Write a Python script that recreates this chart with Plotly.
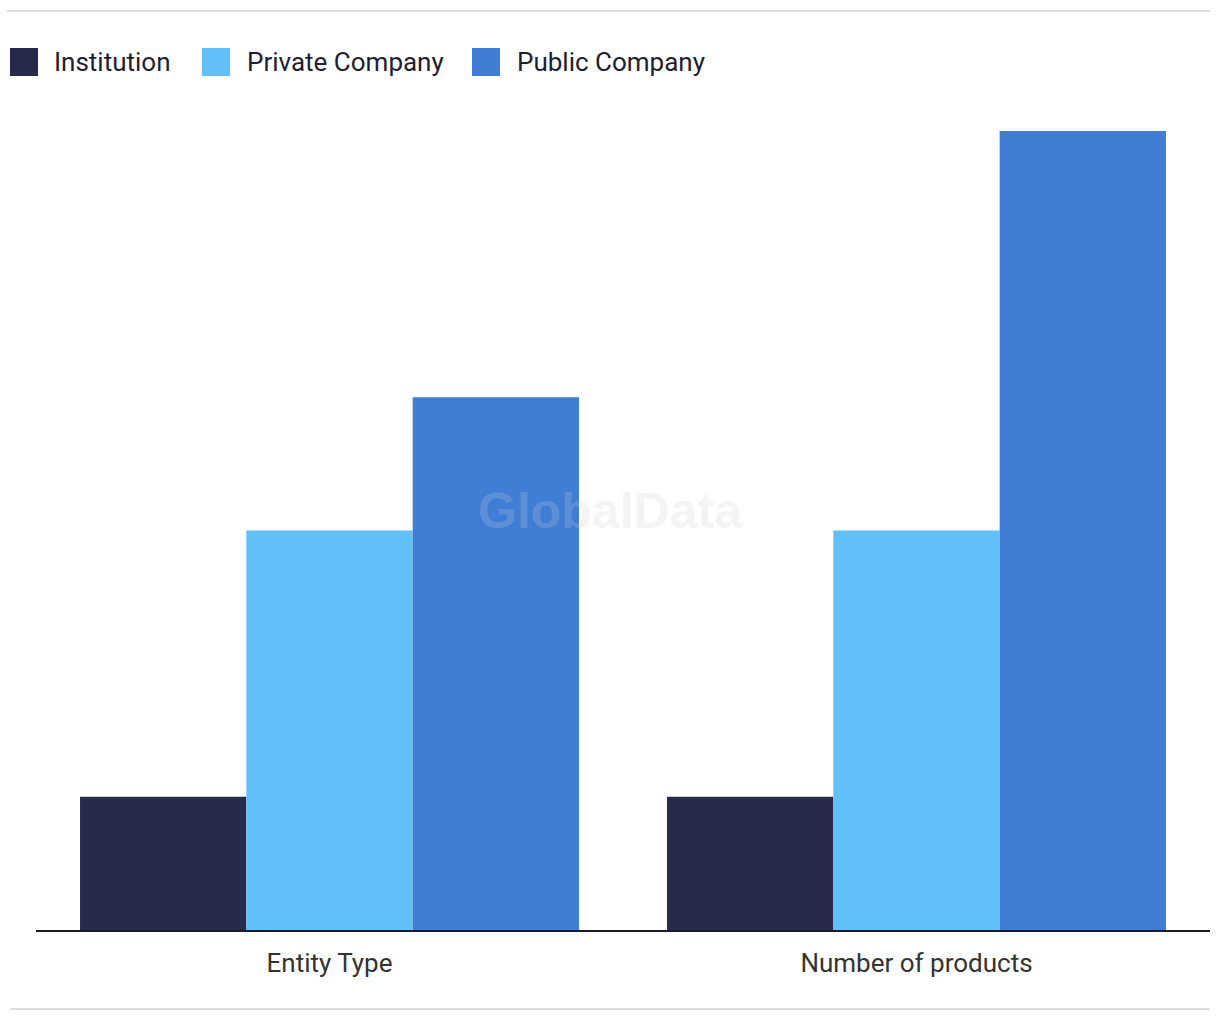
import plotly.graph_objects as go

categories = ["Entity Type", "Number of products"]
series_names = ["Institution", "Private Company", "Public Company"]
institution = [1, 1]
private_company = [3, 3]
public_company = [4, 6]
colors = ["#272A4B", "#62C0F8", "#407ED6"]

W, H = 1220, 1020
L, R, T, B = 36, 10, 131, 90
pw, ph = W - L - R, H - T - B

def px(x):
    return (x - L) / pw

def py(y):
    return (H - B - y) / ph

fig = go.Figure()
for name, vals, col in zip(series_names, [institution, private_company, public_company], colors):
    fig.add_trace(go.Bar(x=categories, y=vals, name=name, marker_color=col,
                         marker_line_width=0, showlegend=False))

shapes = []
annotations = []
# manual legend (large swatches)
leg_box_x = [10, 202, 472]
leg_text_x = [52, 245, 515]
for name, col, bx, tx in zip(series_names, colors, leg_box_x, leg_text_x):
    shapes.append(dict(type="rect", xref="paper", yref="paper",
                       x0=px(bx), x1=px(bx + 28), y0=py(76), y1=py(48),
                       fillcolor=col, line_width=0))
    annotations.append(dict(text=name, xref="paper", yref="paper",
                            x=px(tx), y=py(62), xanchor="left", yanchor="middle",
                            showarrow=False,
                            font=dict(family="Roboto, sans-serif", size=26, color="#1E1E32")))

# frame lines
shapes.append(dict(type="line", xref="paper", yref="paper", x0=px(7), x1=px(1210),
                   y0=py(11), y1=py(11), line=dict(color="#DDDDDD", width=2)))
shapes.append(dict(type="line", xref="paper", yref="paper", x0=px(10), x1=px(1210),
                   y0=py(1009), y1=py(1009), line=dict(color="#DDDDDD", width=2)))

# watermark
annotations.append(dict(text="<b>GlobalData</b>", xref="paper", yref="paper",
                        x=px(610), y=py(511), xanchor="center", yanchor="middle",
                        showarrow=False,
                        font=dict(family="Liberation Sans, Arial, sans-serif", size=50,
                                  color="rgba(200,205,215,0.22)")))

fig.update_layout(
    width=W, height=H,
    margin=dict(l=L, r=R, t=T, b=B, pad=0),
    paper_bgcolor="white", plot_bgcolor="white",
    barmode="group", bargap=0.15, bargroupgap=0,
    shapes=shapes, annotations=annotations,
    font=dict(family="Roboto, sans-serif", size=26, color="#333333"),
)
fig.update_xaxes(showline=True, linecolor="#1A1A2E", linewidth=2, showgrid=False,
                 ticks="", ticklabelstandoff=9,
                 tickfont=dict(family="Roboto, sans-serif", size=26, color="#333333"))
fig.update_yaxes(range=[0, 6], visible=False, showgrid=False, zeroline=False)

fig.write_html("out.html")
